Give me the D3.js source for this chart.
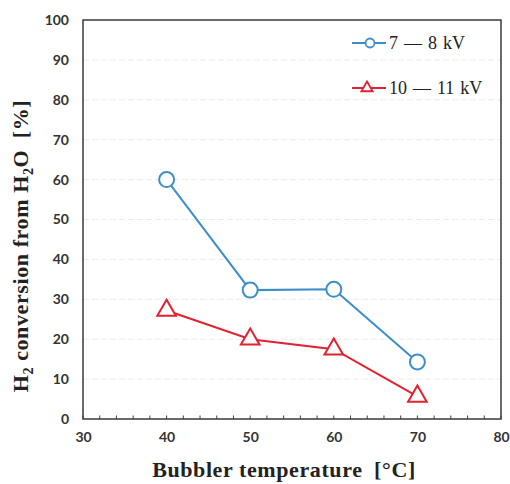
<!DOCTYPE html>
<html><head><meta charset="utf-8">
<script src="https://cdn.jsdelivr.net/npm/d3@7"></script>
<style>body{margin:0;background:#fff}</style>
</head><body>
<svg id="c" width="510" height="484"></svg>
<script>
const temps = [40, 50, 60, 70];
const seriesNames = ["7 \u2014 8 kV", "10 \u2014 11 kV"];
const lowVoltage = [60, 32.3, 32.5, 14.3];
const highVoltage = [27.2, 20, 17.5, 5.7];
const xTicks = [30, 40, 50, 60, 70, 80];
const yTicks = [0, 10, 20, 30, 40, 50, 60, 70, 80, 90, 100];

const svg = d3.select("#c");
const m = {l: 83, r: 501, t: 20, b: 419};
const x = d3.scaleLinear().domain([30, 80]).range([m.l, m.r]);
const y = d3.scaleLinear().domain([0, 100]).range([m.b, m.t]);

// grid
svg.append("g").selectAll("line").data(yTicks.slice(1, -1)).join("line")
  .attr("x1", m.l).attr("x2", m.r).attr("y1", d => y(d)).attr("y2", d => y(d))
  .attr("stroke", "#ececec").attr("stroke-width", 1).attr("stroke-dasharray", "6,3");

// minor inside ticks on bottom
const minor = d3.range(30, 80.1, 2);
svg.append("g").selectAll("line").data(minor).join("line")
  .attr("x1", d => x(d)).attr("x2", d => x(d)).attr("y1", m.b).attr("y2", m.b - 3.5)
  .attr("stroke", "#444").attr("stroke-width", 1);

// frame
svg.append("rect").attr("x", m.l).attr("y", m.t).attr("width", m.r - m.l).attr("height", m.b - m.t)
  .attr("fill", "none").attr("stroke", "#3a3a3a").attr("stroke-width", 1.5);

// axes labels via d3 axes
const tickFont = "Lato, 'Open Sans', sans-serif";
const xa = svg.append("g").attr("transform", `translate(0,${m.b})`)
  .call(d3.axisBottom(x).tickValues(xTicks).tickSize(0).tickPadding(13));
xa.select(".domain").remove();
xa.selectAll("text").attr("font-family", tickFont).attr("font-weight", "bold")
  .attr("font-size", 14).attr("fill", "#333");
const ya = svg.append("g").attr("transform", `translate(${m.l},0)`)
  .call(d3.axisLeft(y).tickValues(yTicks).tickSize(0).tickPadding(14));
ya.select(".domain").remove();
ya.selectAll("text").attr("font-family", tickFont).attr("font-weight", "bold")
  .attr("font-size", 14).attr("fill", "#333");

const blue = "#3d8fca", red = "#e02231";
const line = d3.line().x((d, i) => x(temps[i])).y(d => y(d));

svg.append("path").datum(lowVoltage).attr("d", line).attr("fill", "none")
  .attr("stroke", blue).attr("stroke-width", 2);
svg.append("path").datum(highVoltage).attr("d", line).attr("fill", "none")
  .attr("stroke", red).attr("stroke-width", 2);

svg.append("g").selectAll("circle").data(lowVoltage).join("circle")
  .attr("cx", (d, i) => x(temps[i])).attr("cy", d => y(d)).attr("r", 7.5)
  .attr("fill", "#fff").attr("stroke", blue).attr("stroke-width", 2);

const tri = d3.symbol().type(d3.symbolTriangle).size(150);
svg.append("g").selectAll("path").data(highVoltage).join("path")
  .attr("d", tri).attr("transform", (d, i) => `translate(${x(temps[i])},${y(d)})`)
  .attr("fill", "#fff").attr("stroke", red).attr("stroke-width", 2);

// legend
const serif = "'Liberation Serif', 'Times New Roman', serif";
const lg = [{c: blue, t: seriesNames[0], y: 43, s: "c"}, {c: red, t: seriesNames[1], y: 88, s: "t"}];
lg.forEach(e => {
  svg.append("line").attr("x1", 352).attr("x2", 386).attr("y1", e.y).attr("y2", e.y)
    .attr("stroke", e.c).attr("stroke-width", 2);
  if (e.s === "c") {
    svg.append("circle").attr("cx", 370).attr("cy", e.y).attr("r", 4.5)
      .attr("fill", "#fff").attr("stroke", e.c).attr("stroke-width", 1.8);
  } else {
    svg.append("path").attr("d", d3.symbol().type(d3.symbolTriangle).size(55))
      .attr("transform", `translate(367,${e.y})`)
      .attr("fill", "#fff").attr("stroke", e.c).attr("stroke-width", 1.8);
  }
  svg.append("text").attr("x", 389).attr("y", e.y + 6).text(e.t)
    .attr("font-family", serif).attr("font-size", 18).attr("word-spacing", 1.5).attr("fill", "#222");
});

// axis titles
const xt = svg.append("text").attr("x", 284).attr("y", 477).attr("text-anchor", "middle")
  .attr("font-family", serif).attr("font-weight", "bold").attr("font-size", 22).attr("letter-spacing", 0.6).attr("fill", "#222");
xt.append("tspan").text("Bubbler temperature\u2002[\u00B0C]");

const yt = svg.append("text").attr("transform", "translate(28,246) rotate(-90)").attr("text-anchor", "middle")
  .attr("font-family", serif).attr("font-weight", "bold").attr("font-size", 22).attr("letter-spacing", 0.6).attr("fill", "#222");
yt.append("tspan").text("H");
yt.append("tspan").text("2").attr("font-size", 14).attr("dy", 5);
yt.append("tspan").text(" conversion from H").attr("dy", -5);
yt.append("tspan").text("2").attr("font-size", 14).attr("dy", 5);
yt.append("tspan").text("O\u2002[%]").attr("dy", -5);
</script>
</body></html>
